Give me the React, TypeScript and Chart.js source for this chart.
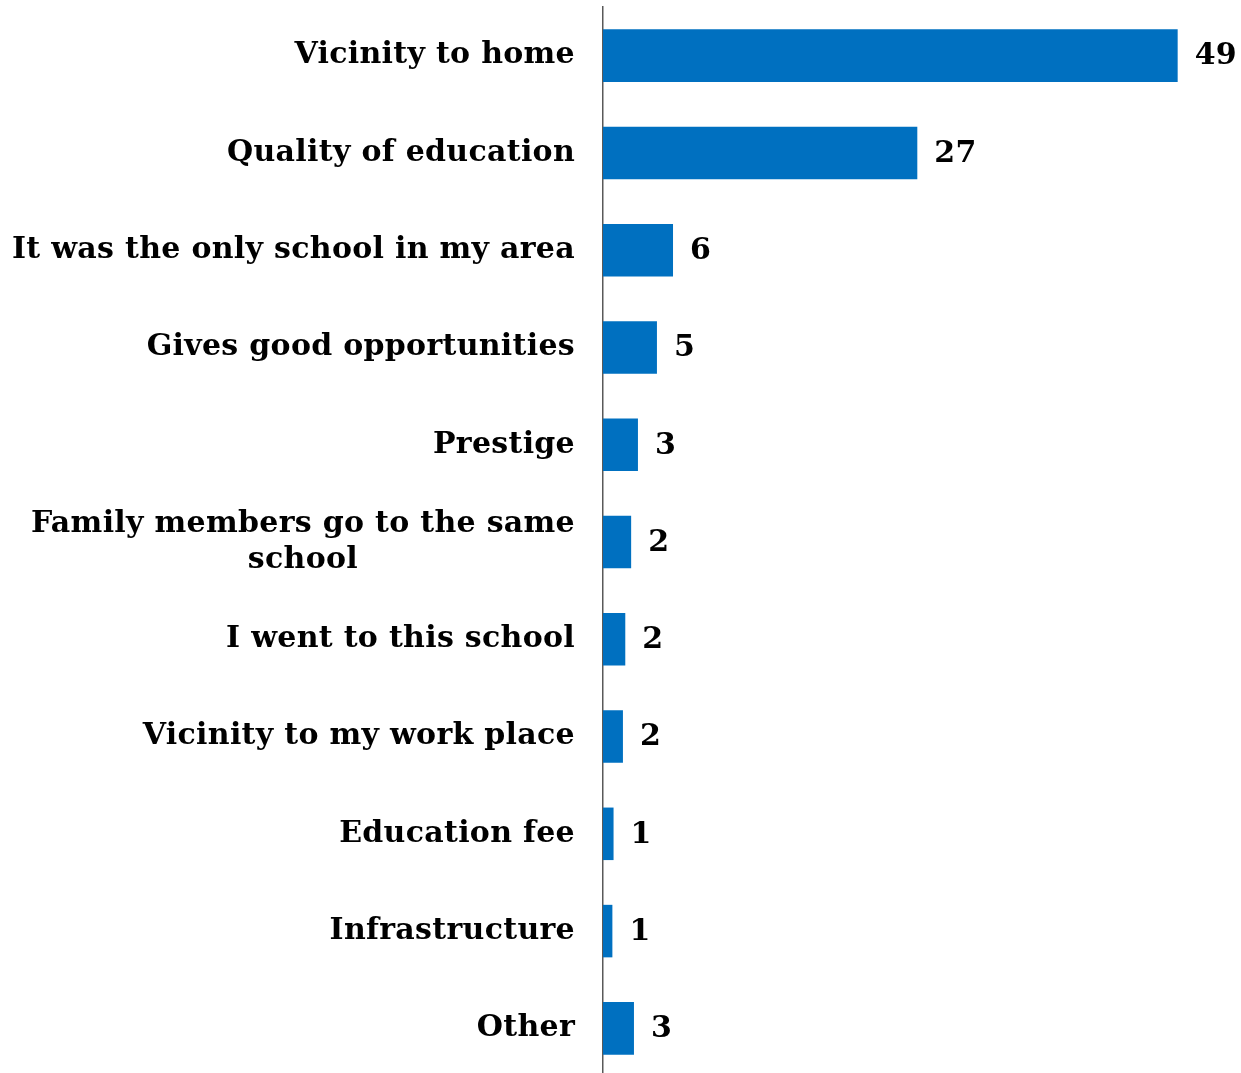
import React, { useEffect, useRef } from 'react';
import { Chart, registerables } from 'chart.js';

Chart.register(...registerables);

const categories: string[][] = [
  ['Vicinity to home'],
  ['Quality of education'],
  ['It was the only school in my area'],
  ['Gives good opportunities'],
  ['Prestige'],
  ['Family members go to the same', 'school'],
  ['I went to this school'],
  ['Vicinity to my work place'],
  ['Education fee'],
  ['Infrastructure'],
  ['Other'],
];

const values: number[] = [49.0, 26.8, 5.97, 4.6, 2.98, 2.4, 1.9, 1.7, 0.9, 0.8, 2.64];
const valueLabels: string[] = ['49', '27', '6', '5', '3', '2', '2', '2', '1', '1', '3'];

const FONT_FAMILY = '"DejaVu Serif", serif';
const LABEL_FONT = `bold 30px ${FONT_FAMILY}`;
const BAR_COLOR = '#0070C0';

const labelPlugin = {
  id: 'customLabels',
  afterDraw(chart: any) {
    const ctx = chart.ctx as CanvasRenderingContext2D;
    const yScale = chart.scales.y;
    const meta = chart.getDatasetMeta(0);
    ctx.save();
    ctx.font = LABEL_FONT;
    (ctx as any).letterSpacing = '0.3px';
    ctx.fillStyle = '#000';
    ctx.textBaseline = 'middle';
    // value labels
    ctx.textAlign = 'left';
    meta.data.forEach((bar: any, i: number) => {
      ctx.fillText(valueLabels[i], bar.x + 17, bar.y + 1);
    });
    // category labels
    const rightX = chart.chartArea.left - 28;
    const lineH = 36;
    categories.forEach((lines, i) => {
      const cy = yScale.getPixelForValue(i);
      const widths = lines.map((l) => ctx.measureText(l).width);
      const blockW = Math.max(...widths);
      const startY = cy - ((lines.length - 1) * lineH) / 2;
      if (lines.length === 1) {
        ctx.textAlign = 'right';
        ctx.fillText(lines[0], rightX, cy);
      } else {
        ctx.textAlign = 'center';
        lines.forEach((l, j) => {
          ctx.fillText(l, rightX - blockW / 2, startY + j * lineH);
        });
      }
    });
    ctx.restore();
  },
};

export default function App() {
  const canvasRef = useRef<HTMLCanvasElement | null>(null);

  useEffect(() => {
    if (!canvasRef.current) return;
    const chart = new Chart(canvasRef.current, {
      type: 'bar',
      data: {
        labels: categories.map((c) => c.join(' ')),
        datasets: [
          {
            data: values,
            backgroundColor: BAR_COLOR,
            borderWidth: 0,
            barPercentage: 0.54,
            categoryPercentage: 1,
          },
        ],
      },
      options: {
        indexAxis: 'y',
        animation: false,
        responsive: false,
        maintainAspectRatio: false,
        layout: { padding: { left: 603, right: 0, top: 7, bottom: 1 } },
        scales: {
          x: { display: false, min: 0, max: 54.4 },
          y: {
            grid: { display: false, drawTicks: false },
            ticks: { display: false },
            border: { display: true, color: '#595959', width: 1.5 },
          },
        },
        plugins: {
          legend: { display: false },
          tooltip: { enabled: false },
        },
      },
      plugins: [labelPlugin],
    });
    return () => chart.destroy();
  }, []);

  return (
    <div
      style={{
        position: 'absolute',
        top: 0,
        left: 0,
        width: 1241,
        height: 1073,
        overflow: 'hidden',
        background: '#fff',
      }}
    >
      <canvas ref={canvasRef} width={1241} height={1078} />
    </div>
  );
}
